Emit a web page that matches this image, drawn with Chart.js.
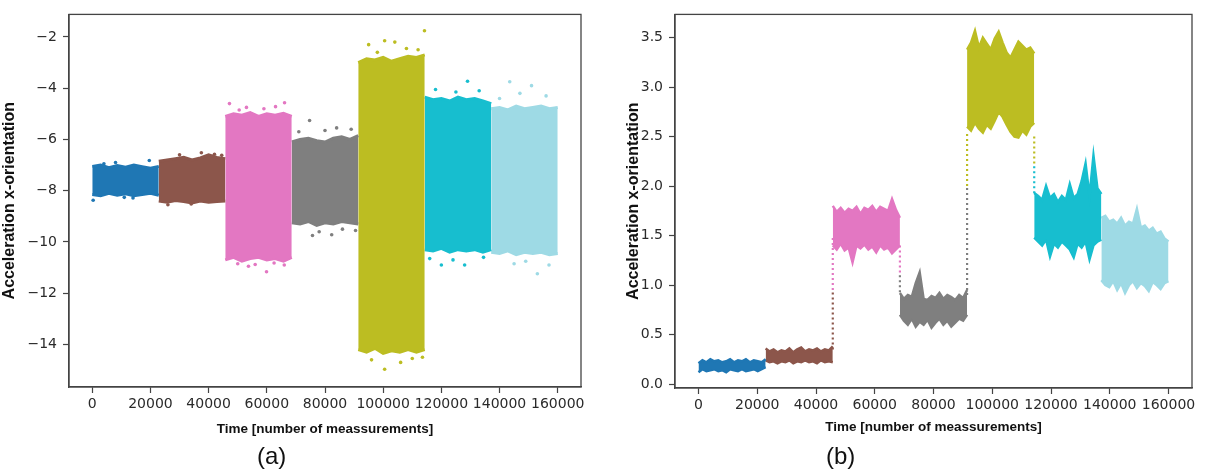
<!DOCTYPE html>
<html>
<head>
<meta charset="utf-8">
<script src="https://cdn.jsdelivr.net/npm/chart.js@4.4.0/dist/chart.umd.min.js"></script>
<style>
    body { margin: 0; background: #fff; width: 1206px; height: 472px; position: relative; overflow: hidden; }
    .box { position: absolute; top: 0; height: 472px; }
    #boxA { left: 0; width: 600px; }
    #boxB { left: 600px; width: 606px; }
    .tag { position: absolute; top: 442px; font: 24px "Liberation Sans", Arial, sans-serif; color: #111; }
</style>
</head>
<body>
<div class="box" id="boxA"><canvas id="chartA"></canvas></div>
<div class="box" id="boxB"><canvas id="chartB"></canvas></div>
<div class="tag" style="left:257px">(a)</div>
<div class="tag" style="left:826px">(b)</div>
<script>
// segment colours (one per activity) and where each segment starts / ends
const segColors = ['#1f77b4', '#8c564b', '#e377c2', '#7f7f7f', '#bcbd22', '#17becf', '#9edae5'];
const segBounds = [0, 22857, 45714, 68571, 91429, 114286, 137143, 160000];

const xTicks = [0, 20000, 40000, 60000, 80000, 100000, 120000, 140000, 160000];
const aYTicks = [-14, -12, -10, -8, -6, -4, -2];
const aYLabels = ['\u221214', '\u221212', '\u221210', '\u22128', '\u22126', '\u22124', '\u22122'];
const bYTicks = [0, 0.5, 1, 1.5, 2, 2.5, 3, 3.5];
const bYLabels = ['0.0', '0.5', '1.0', '1.5', '2.0', '2.5', '3.0', '3.5'];

// (a) upper / lower edge of the dense point cloud, read along each segment
const aUpper = [
    [-7.05, -7.0, -7.1, -7.02, -7.08, -7.0, -7.06, -7.12, -7.05],
    [-6.85, -6.8, -6.75, -6.7, -6.8, -6.72, -6.6, -6.7, -6.75],
    [-5.1, -5.0, -5.05, -4.95, -5.1, -5.0, -5.05, -4.98, -5.1],
    [-6.1, -6.0, -5.95, -6.05, -6.1, -5.95, -5.9, -6.0, -5.85],
    [-3.0, -2.85, -2.9, -2.8, -2.95, -2.85, -2.75, -2.8, -2.7],
    [-4.35, -4.45, -4.4, -4.5, -4.35, -4.45, -4.4, -4.5, -4.6],
    [-4.8, -4.75, -4.85, -4.7, -4.8, -4.75, -4.7, -4.8, -4.75]
];
const aLower = [
    [-8.15, -8.2, -8.1, -8.18, -8.12, -8.2, -8.15, -8.1, -8.18],
    [-8.4, -8.45, -8.38, -8.42, -8.48, -8.4, -8.45, -8.42, -8.4],
    [-10.7, -10.6, -10.75, -10.65, -10.6, -10.7, -10.65, -10.75, -10.6],
    [-9.25, -9.3, -9.2, -9.35, -9.25, -9.3, -9.2, -9.25, -9.3],
    [-14.2, -14.3, -14.15, -14.35, -14.25, -14.3, -14.2, -14.3, -14.2],
    [-10.3, -10.35, -10.25, -10.4, -10.3, -10.35, -10.3, -10.4, -10.3],
    [-10.4, -10.45, -10.35, -10.5, -10.4, -10.45, -10.4, -10.5, -10.45]
];
// (a) stray points outside the dense cloud
const aOutSeg = [0, 0, 0, 0, 0, 0, 1, 1, 1, 1, 1, 1,
    2, 2, 2, 2, 2, 2, 2, 2, 2, 2, 2, 2,
    3, 3, 3, 3, 3, 3, 3, 3, 3, 3,
    4, 4, 4, 4, 4, 4, 4, 4, 4, 4, 4, 4,
    5, 5, 5, 5, 5, 5, 5, 5, 5,
    6, 6, 6, 6, 6, 6, 6, 6, 6];
const aOutX = [300, 8000, 19600, 14000, 4000, 11000,
    37500, 30000, 42000, 26000, 34000, 44500,
    47160, 53000, 59000, 66100, 63000, 50500, 53700, 59900, 50000, 66000, 56000, 62500,
    74700, 84000, 89000, 71000, 80000, 75700, 82300, 78000, 90500, 86000,
    95000, 100500, 104000, 114200, 112000, 108000, 98000, 100500, 96000, 106000, 110000, 113500,
    129000, 118000, 133000, 125000, 120000, 128000, 124000, 116000, 134500,
    143500, 151000, 147000, 156000, 140000, 153000, 145000, 157000, 149000];
const aOutY = [-8.37, -6.9, -6.82, -8.28, -6.95, -8.26,
    -6.52, -6.6, -6.58, -8.55, -8.52, -6.62,
    -4.6, -4.75, -4.8, -4.57, -4.72, -4.85, -10.95, -11.16, -10.85, -10.9, -10.88, -10.82,
    -5.26, -5.55, -5.6, -5.7, -5.65, -9.75, -9.72, -9.6, -9.55, -9.5,
    -2.3, -2.15, -2.2, -1.76, -2.5, -2.45, -2.6, -14.97, -14.6, -14.7, -14.55, -14.5,
    -3.73, -4.05, -4.1, -4.15, -10.9, -10.9, -10.7, -10.65, -10.6,
    -3.75, -3.9, -4.2, -4.3, -4.4, -11.24, -10.85, -10.9, -10.75];

// (b) upper / lower edge of each filtered segment
const bUpper = [
    [0.21, 0.24, 0.22, 0.25, 0.23, 0.24, 0.22, 0.23, 0.25, 0.22, 0.24, 0.23, 0.25, 0.22, 0.24, 0.23, 0.22, 0.25],
    [0.36, 0.33, 0.35, 0.32, 0.34, 0.33, 0.36, 0.32, 0.35, 0.37, 0.33, 0.35, 0.34, 0.36, 0.33, 0.35, 0.34, 0.38],
    [1.80, 1.74, 1.78, 1.73, 1.77, 1.75, 1.79, 1.72, 1.78, 1.76, 1.80, 1.74, 1.79, 1.77, 1.75, 1.87, 1.76, 1.68],
    [0.92, 0.86, 0.90, 0.88, 1.02, 1.13, 0.86, 0.85, 0.89, 0.87, 0.92, 0.86, 0.90, 0.88, 0.85, 0.90, 0.87, 0.95],
    [3.38, 3.45, 3.57, 3.40, 3.50, 3.44, 3.38, 3.49, 3.56, 3.45, 3.35, 3.30, 3.38, 3.46, 3.42, 3.38, 3.40, 3.34],
    [1.93, 1.90, 1.86, 2.00, 1.88, 1.92, 1.84, 1.90, 1.86, 2.02, 1.88, 1.92, 2.05, 2.23, 1.90, 2.31, 1.98, 1.92],
    [1.68, 1.70, 1.64, 1.66, 1.62, 1.68, 1.60, 1.64, 1.62, 1.77, 1.58, 1.60, 1.55, 1.58, 1.52, 1.54, 1.47, 1.44]
];
const bLower = [
    [0.12, 0.15, 0.13, 0.14, 0.15, 0.13, 0.14, 0.12, 0.15, 0.14, 0.13, 0.15, 0.13, 0.14, 0.15, 0.13, 0.15, 0.17],
    [0.24, 0.22, 0.23, 0.21, 0.23, 0.22, 0.24, 0.21, 0.23, 0.22, 0.24, 0.22, 0.23, 0.21, 0.24, 0.22, 0.23, 0.22],
    [1.40, 1.36, 1.42, 1.35, 1.38, 1.23, 1.40, 1.37, 1.41, 1.36, 1.39, 1.33, 1.40, 1.36, 1.38, 1.32, 1.36, 1.40],
    [0.70, 0.64, 0.60, 0.66, 0.58, 0.63, 0.60, 0.65, 0.57, 0.62, 0.66, 0.60, 0.64, 0.58, 0.62, 0.66, 0.64, 0.70],
    [2.60, 2.56, 2.64, 2.58, 2.54, 2.62, 2.58, 2.66, 2.75, 2.70, 2.62, 2.55, 2.50, 2.49, 2.56, 2.52, 2.60, 2.64],
    [1.48, 1.44, 1.40, 1.46, 1.29, 1.42, 1.38, 1.44, 1.40, 1.36, 1.28, 1.42, 1.38, 1.44, 1.26, 1.40, 1.44, 1.46],
    [1.05, 1.00, 0.98, 1.04, 0.95, 1.02, 0.92, 1.00, 1.04, 0.97, 1.02, 0.99, 0.94, 1.03, 1.00, 0.96, 1.02, 1.04]
];
// (b) sparse points at the jumps between segments: segment, time, from, to
const bJumpSeg = [1, 2, 2, 3, 3, 4, 4, 5];
const bJumpX = [45714, 45714, 68571, 68571, 91429, 91429, 114286, 114286];
const bJumpFrom = [0.35, 0.95, 1.40, 1.10, 0.90, 2.00, 2.50, 2.20];
const bJumpTo = [0.95, 1.50, 1.10, 0.90, 2.00, 2.55, 2.20, 1.90];

function segmentX(k, n, i) {
    return segBounds[k] + (segBounds[k + 1] - segBounds[k]) * i / (n - 1);
}

function bandDatasets(upper, lower, width) {
    const sets = [];
    upper.forEach((hi, k) => {
        const lo = lower[k];
        sets.push({
            data: hi.map((v, i) => ({ x: segmentX(k, hi.length, i), y: v })),
            showLine: true, fill: '+1', pointRadius: 0, borderWidth: width,
            borderColor: segColors[k], backgroundColor: segColors[k]
        });
        sets.push({
            data: lo.map((v, i) => ({ x: segmentX(k, lo.length, i), y: v })),
            showLine: true, fill: false, pointRadius: 0, borderWidth: width,
            borderColor: segColors[k], backgroundColor: segColors[k]
        });
    });
    return sets;
}

const frame = {
    id: 'frame',
    afterDatasetsDraw(chart) {
        const { ctx, chartArea: a } = chart;
        ctx.save();
        ctx.strokeStyle = '#444';
        ctx.lineWidth = 1.3;
        ctx.strokeRect(a.left, a.top, a.right - a.left, a.bottom - a.top);
        ctx.restore();
    }
};

function axisX(titlePad) {
    return {
        type: 'linear', min: -8000, max: 168000,
        afterBuildTicks: s => { s.ticks = xTicks.map(v => ({ value: v })); },
        afterFit: s => { s.height = 85; },
        ticks: { color: '#2a2a2a', padding: 3, maxRotation: 0, font: { family: 'DejaVu Sans', size: 14 },
            callback: v => String(v) },
        grid: { drawOnChartArea: false, tickLength: 6, color: '#444', tickWidth: 1.2 },
        border: { color: '#444', width: 1.3 },
        title: { display: true, text: 'Time [number of meassurements]', color: '#111',
            font: { family: 'Liberation Sans', size: 13.5, weight: 'bold' },
            padding: { top: 0, bottom: titlePad } }
    };
}

function axisY(min, max, ticks, labels, width, titlePad) {
    return {
        type: 'linear', min: min, max: max,
        afterBuildTicks: s => { s.ticks = ticks.map(v => ({ value: v })); },
        afterFit: s => { s.width = width; },
        ticks: { color: '#2a2a2a', padding: 6, font: { family: 'DejaVu Sans', size: 14 },
            callback: v => labels[ticks.indexOf(v)] },
        grid: { drawOnChartArea: false, tickLength: 6, color: '#444', tickWidth: 1.2 },
        border: { color: '#444', width: 1.3 },
        title: { display: true, text: 'Acceleration x-orientation', color: '#111',
            font: { family: 'Liberation Sans', size: 16, weight: 'bold' },
            padding: { top: titlePad, bottom: 0 } }
    };
}

const baseOptions = {
    responsive: true,
    maintainAspectRatio: false,
    animation: false,
    plugins: { legend: { display: false }, tooltip: { enabled: false } }
};

// (a) raw signal
const aSets = bandDatasets(aUpper, aLower, 3);
segColors.forEach((c, k) => {
    const pts = [];
    aOutSeg.forEach((s, i) => { if (s === k) pts.push({ x: aOutX[i], y: aOutY[i] }); });
    aSets.push({ data: pts, pointRadius: 1.8, pointBorderWidth: 0, backgroundColor: c, borderColor: c });
});

new Chart(document.getElementById('chartA'), {
    type: 'scatter',
    data: { datasets: aSets },
    options: Object.assign({}, baseOptions, {
        layout: { padding: { left: 0, top: 6, right: 19, bottom: 0 } },
        scales: {
            x: axisX(35),
            y: axisY(-15.66, -1.12, aYTicks, aYLabels, 69, 0)
        }
    }),
    plugins: [frame]
});

// (b) filtered signal
const bSets = [];
bJumpSeg.forEach((k, i) => {
    bSets.push({
        data: [{ x: bJumpX[i], y: bJumpFrom[i] }, { x: bJumpX[i], y: bJumpTo[i] }],
        showLine: true, pointRadius: 0, borderWidth: 2.2, borderDash: [2, 3],
        borderColor: segColors[k], backgroundColor: segColors[k]
    });
});
bandDatasets(bUpper, bLower, 2.5).forEach(d => bSets.push(d));

new Chart(document.getElementById('chartB'), {
    type: 'scatter',
    data: { datasets: bSets },
    options: Object.assign({}, baseOptions, {
        layout: { padding: { left: 0, top: 3, right: 14, bottom: 0 } },
        scales: {
            x: Object.assign(axisX(37), { afterFit: s => { s.height = 84; } }),
            y: axisY(-0.04, 3.735, bYTicks, bYLabels, 75, 24)
        }
    }),
    plugins: [frame]
});
</script>
</body>
</html>
